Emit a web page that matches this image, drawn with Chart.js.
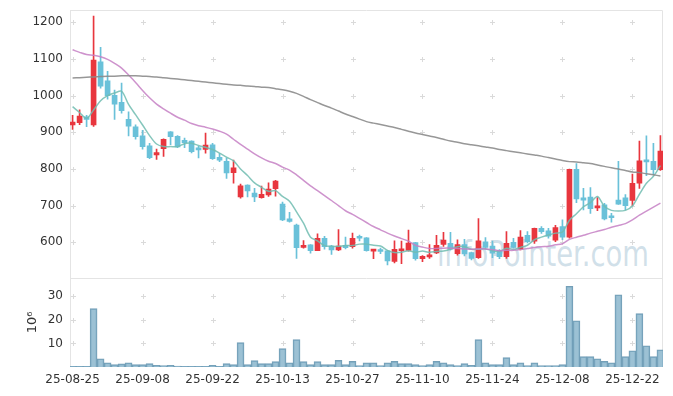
<!DOCTYPE html>
<html><head><meta charset="utf-8">
<script src="https://cdn.jsdelivr.net/npm/chart.js@4/dist/chart.umd.min.js"></script>
<style>
html,body{margin:0;padding:0;background:#fff;}
#wrap{position:relative;width:673px;height:396px;overflow:hidden;}
#wm{position:absolute;left:437px;top:234px;font-family:"DejaVu Sans";font-size:36px;line-height:40px;color:rgba(170,198,214,0.55);transform-origin:0 0;transform:scaleX(0.76);white-space:nowrap;}
canvas{position:absolute;left:0;top:0;}
</style></head>
<body><div id="wrap"><div id="wm">infoPointer.com</div><canvas id="c" width="673" height="396"></canvas></div>
<script>
const dates = [
'25-08-25','25-08-26','25-08-27','25-08-28','25-08-29',
'25-09-01','25-09-02','25-09-03','25-09-04','25-09-05',
'25-09-08','25-09-09','25-09-10','25-09-11','25-09-12',
'25-09-15','25-09-16','25-09-17','25-09-18','25-09-19',
'25-09-22','25-09-23','25-09-24','25-09-25','25-09-26',
'25-09-29','25-09-30','25-10-01','25-10-02','25-10-10',
'25-10-13','25-10-14','25-10-15','25-10-16','25-10-17',
'25-10-20','25-10-21','25-10-22','25-10-23','25-10-24',
'25-10-27','25-10-28','25-10-29','25-10-30','25-10-31',
'25-11-03','25-11-04','25-11-05','25-11-06','25-11-07',
'25-11-10','25-11-11','25-11-12','25-11-13','25-11-14',
'25-11-17','25-11-18','25-11-19','25-11-20','25-11-21',
'25-11-24','25-11-25','25-11-26','25-11-27','25-11-28',
'25-12-01','25-12-02','25-12-03','25-12-04','25-12-05',
'25-12-08','25-12-09','25-12-10','25-12-11','25-12-12',
'25-12-15','25-12-16','25-12-17','25-12-18','25-12-19',
'25-12-22','25-12-23','25-12-24','25-12-26','25-12-29'];

const openP = [
920, 926, 942, 920, 1092, 1040, 1001, 982, 935, 915,
890, 863, 838, 855, 901, 889, 878, 876, 855, 853,
866, 832, 821, 790, 724, 756, 734, 722, 729, 746,
704, 664, 647, 586, 593, 577, 611, 590, 579, 592,
588, 613, 612, 576, 577, 577, 548, 577, 578, 599,
555, 560, 571, 594, 597, 569, 594, 572, 558, 601,
590, 578, 561, 600, 581, 619, 603, 638, 631, 606,
643, 614, 799, 721, 723, 694, 702, 671, 715, 721,
714, 761, 825, 821, 798];
const highP = [
946, 961, 946, 1217, 1132, 1066, 1015, 1034, 956, 920,
905, 870, 854, 882, 902, 891, 884, 877, 862, 898,
870, 842, 829, 824, 759, 757, 747, 753, 762, 769,
710, 682, 650, 605, 594, 623, 616, 592, 635, 614,
625, 620, 613, 580, 584, 578, 604, 603, 633, 600,
564, 594, 619, 627, 627, 607, 608, 573, 665, 613,
603, 580, 629, 611, 632, 629, 639, 643, 638, 646,
661, 800, 815, 747, 749, 722, 706, 679, 821, 730,
786, 876, 890, 870, 891];
const lowP = [
908, 921, 915, 916, 1020, 990, 935, 952, 890, 881,
854, 828, 826, 834, 866, 858, 858, 844, 830, 843,
826, 820, 774, 761, 720, 724, 711, 720, 725, 726,
659, 655, 556, 584, 570, 577, 581, 567, 577, 582,
584, 604, 576, 555, 569, 538, 544, 542, 576, 551,
547, 556, 569, 589, 579, 565, 563, 552, 556, 582,
558, 555, 556, 584, 579, 598, 597, 624, 611, 602,
607, 611, 708, 688, 679, 686, 661, 655, 703, 689,
700, 747, 782, 784, 796];
const closeP = [
928, 944, 935, 1097, 1026, 1000, 977, 959, 917, 888,
861, 831, 845, 881, 888, 860, 872, 847, 852, 865,
828, 824, 789, 803, 754, 740, 724, 731, 745, 767,
661, 657, 585, 592, 577, 611, 588, 579, 590, 585,
611, 611, 577, 578, 575, 549, 581, 582, 598, 555,
562, 566, 592, 606, 581, 594, 568, 556, 604, 586,
570, 561, 597, 586, 614, 602, 638, 629, 617, 640,
614, 799, 718, 715, 692, 699, 664, 667, 704, 700,
761, 822, 819, 798, 849];
const volume = [
0.3, 0.3, 0.3, 24.7, 3.5, 1.8, 1.0, 1.3, 1.8, 1.0,
1.0, 1.4, 0.7, 0.6, 0.7, 0.4, 0.3, 0.3, 0.3, 0.3,
0.7, 0.3, 1.4, 1.0, 10.3, 1.0, 2.7, 1.4, 1.4, 2.3,
7.8, 1.8, 11.6, 2.3, 1.0, 2.3, 1.0, 1.0, 2.8, 1.0,
2.4, 0.6, 1.8, 1.8, 0.6, 1.8, 2.4, 1.4, 1.4, 1.0,
0.6, 1.0, 2.4, 1.8, 1.0, 0.6, 1.4, 0.7, 11.6, 1.8,
1.0, 1.0, 4.0, 1.0, 1.8, 0.6, 1.8, 0.6, 0.6, 0.6,
1.0, 34.2, 19.6, 4.4, 4.4, 3.5, 2.4, 1.8, 30.6, 4.4,
6.9, 22.6, 9.0, 4.4, 7.3];
const ma5 = [
970, 954, 938, 961, 986, 1000, 1007, 1012, 976, 948,
920, 891, 868, 861, 861, 861, 869, 870, 864, 859,
853, 843, 832, 822, 800, 782, 762, 750, 739, 741,
725, 712, 683, 652, 614, 604, 591, 589, 589, 591,
591, 595, 595, 592, 590, 578, 572, 573, 577, 573,
576, 573, 575, 576, 581, 588, 588, 581, 581, 582,
577, 575, 584, 580, 586, 592, 607, 614, 620, 625,
628, 660, 678, 697, 708, 725, 698, 687, 685, 687,
699, 731, 761, 780, 809];
const ma20 = [
1125, 1118, 1112, 1110, 1106, 1099, 1088, 1075, 1056, 1036,
1014, 994, 977, 964, 952, 941, 933, 924, 918, 914,
909, 903, 895, 881, 867, 854, 841, 830, 821, 815,
805, 797, 784, 769, 754, 741, 727, 714, 700, 686,
676, 665, 654, 643, 634, 625, 617, 610, 603, 592,
587, 583, 583, 584, 584, 583, 582, 581, 582, 582,
580, 577, 578, 578, 580, 583, 586, 588, 589, 593,
596, 608, 614, 619, 625, 630, 635, 641, 646, 651,
661, 674, 685, 696, 707];
const ma120 = [
1048, 1049, 1050, 1051, 1052, 1053, 1053, 1054, 1054, 1054,
1053, 1052, 1051, 1049, 1047, 1045, 1043, 1041, 1039, 1037,
1035, 1033, 1031, 1029, 1028, 1026, 1025, 1023, 1022, 1019,
1016, 1012, 1006, 998, 989, 981, 973, 966, 958, 950,
943, 936, 929, 925, 921, 917, 913, 908, 903, 898,
894, 890, 886, 881, 876, 873, 869, 866, 863, 860,
857, 853, 850, 847, 844, 841, 838, 835, 831, 827,
823, 820, 819, 817, 815, 811, 807, 803, 800, 796,
792, 790, 787, 784, 781];
const xTickIdx = [0, 10, 20, 30, 40, 50, 60, 70, 80];
const priceTicks = [600, 700, 800, 900, 1000, 1100, 1200];
const volTicks = [10, 20, 30];

const RED = '#e8363e', BLUE = '#6ac1d9';
const FONT = {family: '"DejaVu Sans", sans-serif', size: 12};
const idx = dates.map((d, i) => i);
const candleColor = idx.map(i => closeP[i] >= openP[i] ? RED : BLUE);

const crossPlugin = {
  id: 'cross',
  beforeDatasetsDraw(chart) {
    const {ctx, chartArea: a, scales} = chart;
    const x = scales.x, y = scales.y, yv = scales.yv;
    ctx.save();
    ctx.strokeStyle = '#e4e4e4';
    ctx.lineWidth = 1;
    ctx.beginPath();
    ctx.moveTo(Math.round(a.left) + 0.5, a.top + 0.5);
    ctx.lineTo(Math.round(a.right) - 0.5, a.top + 0.5);
    ctx.lineTo(Math.round(a.right) - 0.5, a.bottom);
    ctx.moveTo(Math.round(a.left) + 0.5, a.top);
    ctx.lineTo(Math.round(a.left) + 0.5, a.bottom);
    const sep = Math.round(y.bottom) + 0.5;
    ctx.moveTo(a.left, sep); ctx.lineTo(a.right, sep);
    ctx.stroke();
    ctx.strokeStyle = '#dadada';
    ctx.beginPath();
    const cross = (px, py) => {
      px = Math.round(px) + 0.5; py = Math.round(py) + 0.5;
      ctx.moveTo(px - 2.5, py); ctx.lineTo(px + 2.5, py);
      ctx.moveTo(px, py - 2.5); ctx.lineTo(px, py + 2.5);
    };
    xTickIdx.forEach(t => {
      const px = x.getPixelForValue(t);
      priceTicks.forEach(v => cross(px, y.getPixelForValue(v)));
      volTicks.forEach(v => cross(px, yv.getPixelForValue(v)));
    });
    ctx.stroke();
    ctx.restore();
  }
};

const fixW = s => { s.width = 70; s.paddingTop = 0; s.paddingBottom = 0; };

new Chart(document.getElementById('c'), {
  type: 'bar',
  data: {
    datasets: [
      {type: 'line', data: idx.map(i => ({x: i, y: ma120[i]})), yAxisID: 'y',
       borderColor: 'rgba(140,140,140,0.9)', borderWidth: 1.5, pointRadius: 0, tension: 0.3, order: 1},
      {type: 'line', data: idx.map(i => ({x: i, y: ma20[i]})), yAxisID: 'y',
       borderColor: 'rgba(198,128,196,0.85)', borderWidth: 1.5, pointRadius: 0, tension: 0.3, order: 1},
      {type: 'line', data: idx.map(i => ({x: i, y: ma5[i]})), yAxisID: 'y',
       borderColor: 'rgba(112,188,176,0.85)', borderWidth: 1.5, pointRadius: 0, tension: 0.3, order: 1},
      {type: 'bar', data: idx.map(i => ({x: i, y: [lowP[i], highP[i]]})), yAxisID: 'y',
       backgroundColor: candleColor, barThickness: 1, grouped: false, order: 3},
      {type: 'bar', data: idx.map(i => ({x: i, y: [openP[i], closeP[i]]})), yAxisID: 'y',
       backgroundColor: candleColor, barThickness: 5, grouped: false, minBarLength: 2, order: 2},
      {type: 'bar', data: idx.map(i => ({x: i, y: volume[i]})), yAxisID: 'yv',
       backgroundColor: 'rgba(128,176,200,0.78)', borderColor: 'rgba(92,142,170,0.85)', borderWidth: 1,
       barThickness: 7, grouped: false, order: 4}
    ]
  },
  options: {
    responsive: false,
    animation: false,
    events: [],
    layout: {padding: {top: 10, right: 10, left: 0, bottom: 0}},
    plugins: {legend: {display: false}, tooltip: {enabled: false}},
    scales: {
      x: {
        type: 'linear', min: -0.37, max: 84.37, offset: false,
        grid: {display: false, drawTicks: false, offset: false}, border: {display: false},
        afterBuildTicks: s => { s.ticks = xTickIdx.map(v => ({value: v})); },
        afterFit: s => { s.height = 29; s.paddingLeft = 0; s.paddingRight = 0; },
        ticks: {autoSkip: false, maxRotation: 0, minRotation: 0, padding: 6, color: '#333', font: FONT,
                callback: v => dates[v]}
      },
      yv: {
        type: 'linear', position: 'left', stack: 'panel', stackWeight: 1, min: 0, max: 37.8,
        grid: {display: false, drawTicks: false}, border: {display: false},
        afterBuildTicks: s => { s.ticks = volTicks.map(v => ({value: v})); },
        afterFit: fixW,
        ticks: {padding: 7, color: '#333', font: FONT, callback: v => String(v)},
        title: {display: true, text: '10⁶', color: '#333', font: {family: '"DejaVu Sans", sans-serif', size: 13}, padding: {top: 25, bottom: 0}}
      },
      y: {
        type: 'linear', position: 'left', stack: 'panel', stackWeight: 3, min: 503.3, max: 1233.5,
        grid: {display: false, drawTicks: false}, border: {display: false},
        afterBuildTicks: s => { s.ticks = priceTicks.map(v => ({value: v})); },
        afterFit: fixW,
        ticks: {padding: 7, color: '#333', font: FONT, callback: v => String(v)}
      }
    }
  },
  plugins: [crossPlugin]
});
</script>
</body></html>
